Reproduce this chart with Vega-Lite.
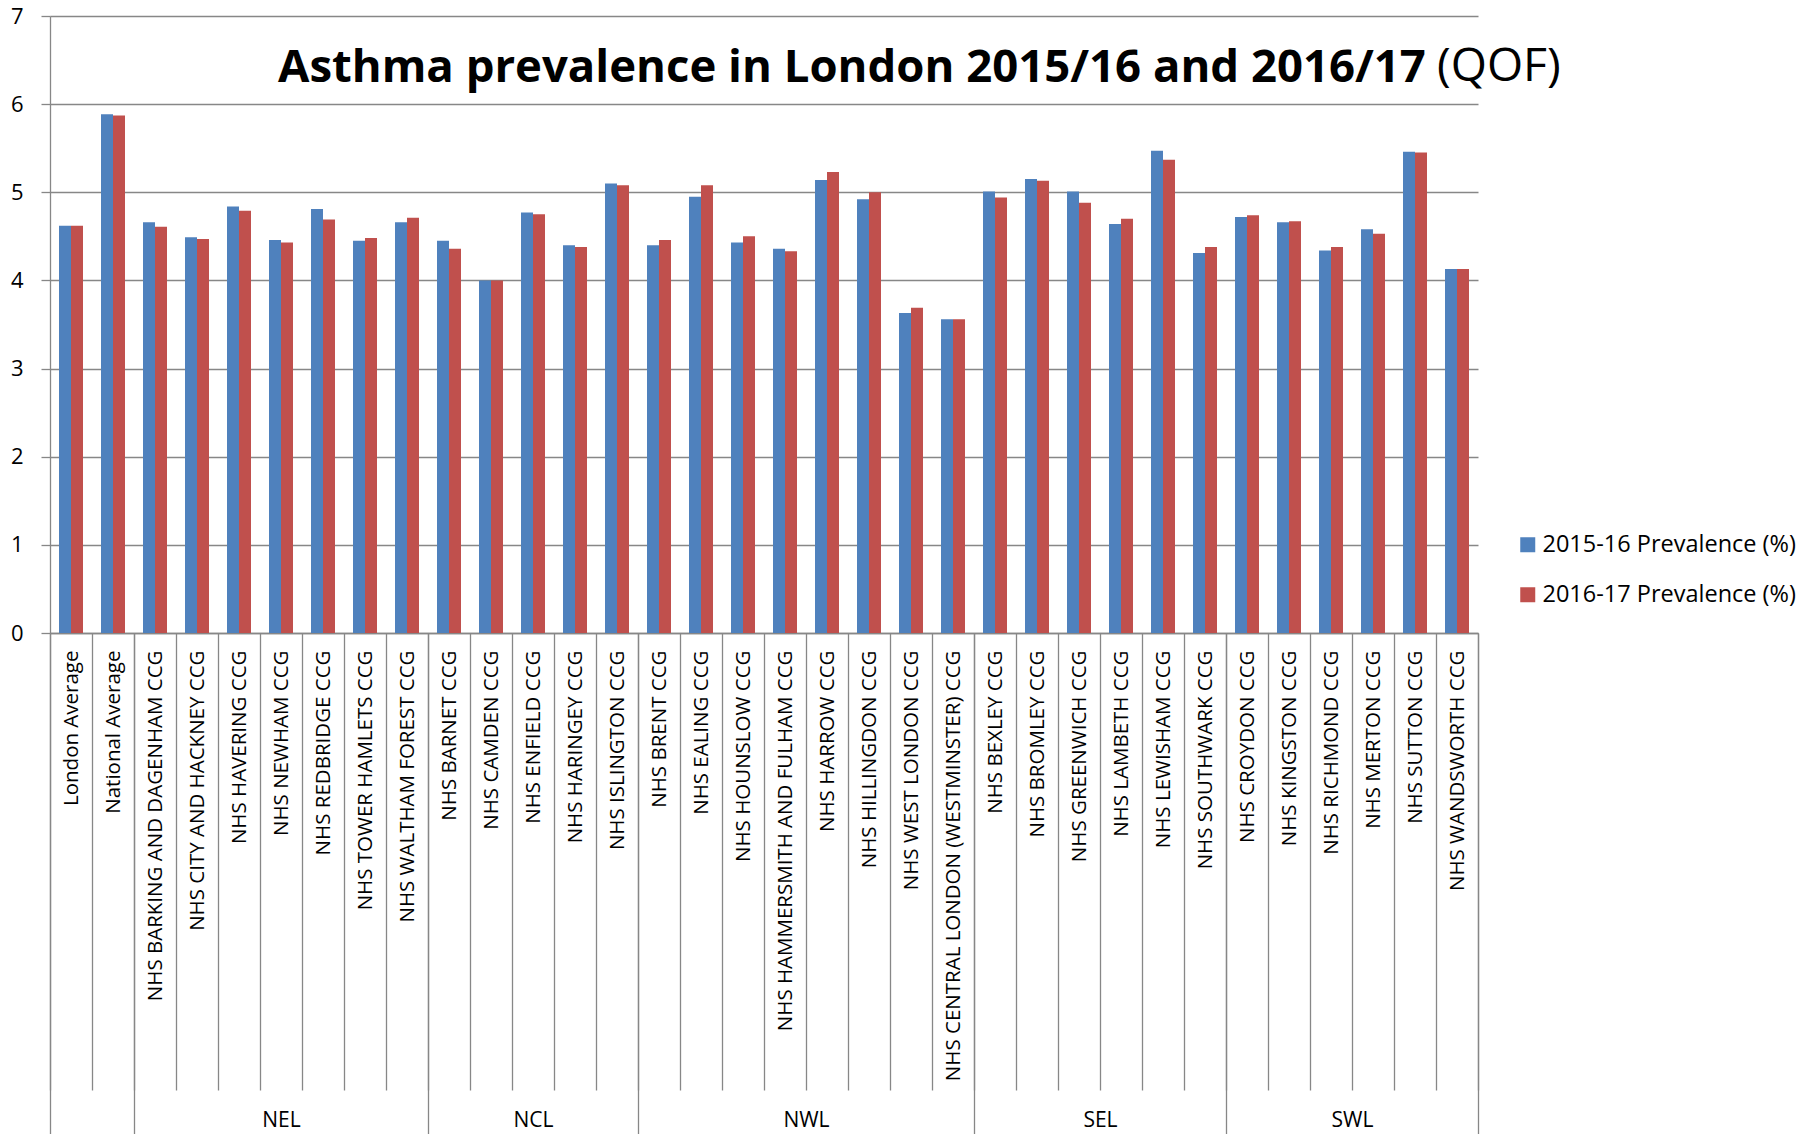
{
  "$schema": "https://vega.github.io/schema/vega-lite/v6.json",
  "width": 1428,
  "height": 617,
  "autosize": {"type": "none"},
  "padding": {"left": 50, "top": 16, "right": 336, "bottom": 501},
  "background": "white",
  "config": {"view": {"stroke": null}, "font": "Open Sans"},
  "title": {
    "text": "Asthma prevalence in London 2015/16 and 2016/17",
    "anchor": "start",
    "frame": "group",
    "dx": 228,
    "offset": -122,
    "baseline": "alphabetic",
    "font": "Open Sans",
    "fontSize": 45.5,
    "fontWeight": "bold",
    "color": "#000000"
  },
  "data": {
    "values": [
      {"area": "London Average", "group": "", "p1516": 4.62, "p1617": 4.62},
      {"area": "National Average", "group": "", "p1516": 5.885, "p1617": 5.87},
      {"area": "NHS BARKING AND DAGENHAM CCG", "group": "NEL", "p1516": 4.66, "p1617": 4.61},
      {"area": "NHS CITY AND HACKNEY CCG", "group": "NEL", "p1516": 4.49, "p1617": 4.47},
      {"area": "NHS HAVERING CCG", "group": "NEL", "p1516": 4.84, "p1617": 4.79},
      {"area": "NHS NEWHAM CCG", "group": "NEL", "p1516": 4.46, "p1617": 4.43},
      {"area": "NHS REDBRIDGE CCG", "group": "NEL", "p1516": 4.81, "p1617": 4.69},
      {"area": "NHS TOWER HAMLETS CCG", "group": "NEL", "p1516": 4.45, "p1617": 4.48},
      {"area": "NHS WALTHAM FOREST CCG", "group": "NEL", "p1516": 4.66, "p1617": 4.71},
      {"area": "NHS BARNET CCG", "group": "NCL", "p1516": 4.45, "p1617": 4.36},
      {"area": "NHS CAMDEN CCG", "group": "NCL", "p1516": 4.0, "p1617": 4.0},
      {"area": "NHS ENFIELD CCG", "group": "NCL", "p1516": 4.77, "p1617": 4.75},
      {"area": "NHS HARINGEY CCG", "group": "NCL", "p1516": 4.4, "p1617": 4.38},
      {"area": "NHS ISLINGTON CCG", "group": "NCL", "p1516": 5.1, "p1617": 5.08},
      {"area": "NHS BRENT CCG", "group": "NWL", "p1516": 4.4, "p1617": 4.46},
      {"area": "NHS EALING CCG", "group": "NWL", "p1516": 4.95, "p1617": 5.08},
      {"area": "NHS HOUNSLOW CCG", "group": "NWL", "p1516": 4.43, "p1617": 4.5},
      {"area": "NHS HAMMERSMITH AND FULHAM CCG", "group": "NWL", "p1516": 4.36, "p1617": 4.33},
      {"area": "NHS HARROW CCG", "group": "NWL", "p1516": 5.14, "p1617": 5.23},
      {"area": "NHS HILLINGDON CCG", "group": "NWL", "p1516": 4.92, "p1617": 5.0},
      {"area": "NHS WEST LONDON CCG", "group": "NWL", "p1516": 3.63, "p1617": 3.69},
      {"area": "NHS CENTRAL LONDON (WESTMINSTER) CCG", "group": "NWL", "p1516": 3.56, "p1617": 3.56},
      {"area": "NHS BEXLEY CCG", "group": "SEL", "p1516": 5.01, "p1617": 4.94},
      {"area": "NHS BROMLEY CCG", "group": "SEL", "p1516": 5.15, "p1617": 5.13},
      {"area": "NHS GREENWICH CCG", "group": "SEL", "p1516": 5.01, "p1617": 4.88},
      {"area": "NHS LAMBETH CCG", "group": "SEL", "p1516": 4.64, "p1617": 4.7},
      {"area": "NHS LEWISHAM CCG", "group": "SEL", "p1516": 5.47, "p1617": 5.37},
      {"area": "NHS SOUTHWARK CCG", "group": "SEL", "p1516": 4.31, "p1617": 4.38},
      {"area": "NHS CROYDON CCG", "group": "SWL", "p1516": 4.72, "p1617": 4.74},
      {"area": "NHS KINGSTON CCG", "group": "SWL", "p1516": 4.66, "p1617": 4.67},
      {"area": "NHS RICHMOND CCG", "group": "SWL", "p1516": 4.34, "p1617": 4.38},
      {"area": "NHS MERTON CCG", "group": "SWL", "p1516": 4.58, "p1617": 4.53},
      {"area": "NHS SUTTON CCG", "group": "SWL", "p1516": 5.46, "p1617": 5.45},
      {"area": "NHS WANDSWORTH CCG", "group": "SWL", "p1516": 4.13, "p1617": 4.13}
    ]
  },
  "layer": [
    {
      "transform": [{"fold": ["p1516", "p1617"], "as": ["series", "prev"]}],
      "mark": {"type": "bar"},
      "encoding": {
        "x": {
          "field": "area",
          "type": "nominal",
          "sort": null,
          "scale": {"paddingInner": 0, "paddingOuter": 0},
          "axis": {
            "orient": "bottom",
            "title": null,
            "grid": false,
            "tickBand": "extent",
            "tickSize": 457,
            "tickColor": "#878787",
            "tickWidth": 1.3,
            "domainColor": "#878787",
            "domainWidth": 1.3,
            "labelAngle": 270,
            "labelPadding": -440,
            "labelFont": "Open Sans",
            "labelFontSize": 20.5,
            "labelColor": "#000000",
            "labelLimit": 700,
            "labelOverlap": false
          }
        },
        "xOffset": {"field": "series", "scale": {"paddingOuter": 0.75, "paddingInner": 0}},
        "y": {
          "field": "prev",
          "type": "quantitative",
          "scale": {"domain": [0, 7], "nice": false},
          "axis": {
            "title": null,
            "values": [0, 1, 2, 3, 4, 5, 6, 7],
            "grid": true,
            "gridColor": "#878787",
            "gridWidth": 1.3,
            "domainColor": "#878787",
            "domainWidth": 1.3,
            "tickColor": "#878787",
            "tickWidth": 1.3,
            "tickSize": 9,
            "labelPadding": 18,
            "labelFont": "Open Sans",
            "labelFontSize": 22,
            "labelColor": "#000000"
          }
        },
        "color": {
          "field": "series",
          "type": "nominal",
          "scale": {"domain": ["p1516", "p1617"], "range": ["#4F81BD", "#C0504D"]},
          "legend": {
            "title": null,
            "orient": "none",
            "legendX": 1466,
            "legendY": 517,
            "padding": 0,
            "symbolType": "square",
            "symbolSize": 225,
            "symbolStrokeWidth": 0,
            "labelFont": "Open Sans",
            "labelFontSize": 23.5,
            "labelColor": "#000000",
            "labelOffset": 3,
            "labelLimit": 400,
            "rowPadding": 25,
            "labelExpr": "datum.label === 'p1516' ? '2015-16 Prevalence (%)' : '2016-17 Prevalence (%)'"
          }
        }
      }
    },
    {
      "transform": [{"filter": "datum.area === 'NHS WANDSWORTH CCG'"}],
      "mark": {"type": "text", "align": "left", "baseline": "alphabetic", "dx": -20, "font": "Open Sans", "fontSize": 46.5, "color": "#000000"},
      "encoding": {
        "x": {
          "field": "area",
          "type": "nominal",
          "sort": null,
          "axis": {
            "orient": "bottom",
            "title": null,
            "grid": false,
            "domain": false,
            "values": ["London Average", "National Average", "NHS WALTHAM FOREST CCG", "NHS ISLINGTON CCG", "NHS CENTRAL LONDON (WESTMINSTER) CCG", "NHS SOUTHWARK CCG", "NHS WANDSWORTH CCG"],
            "tickBand": "extent",
            "tickSize": 501,
            "tickColor": "#878787",
            "tickWidth": 1.3,
            "tickOpacity": {"condition": {"test": "datum.value === 'London Average'", "value": 0}, "value": 1},
            "labelAngle": 0,
            "labelAlign": "center",
            "labelBaseline": "middle",
            "labelPadding": -14,
            "labelFont": "Open Sans",
            "labelFontSize": 21,
            "labelColor": "#000000",
            "labelOverlap": false,
            "labelExpr": "datum.value === 'NHS WALTHAM FOREST CCG' ? 'NEL' : datum.value === 'NHS ISLINGTON CCG' ? 'NCL' : datum.value === 'NHS CENTRAL LONDON (WESTMINSTER) CCG' ? 'NWL' : datum.value === 'NHS SOUTHWARK CCG' ? 'SEL' : datum.value === 'NHS WANDSWORTH CCG' ? 'SWL' : ''",
            "labelOffset": {
              "condition": [
                {"test": "datum.value === 'NHS WALTHAM FOREST CCG'", "value": -126},
                {"test": "datum.value === 'NHS ISLINGTON CCG'", "value": -84},
                {"test": "datum.value === 'NHS CENTRAL LONDON (WESTMINSTER) CCG'", "value": -147},
                {"test": "datum.value === 'NHS SOUTHWARK CCG'", "value": -105},
                {"test": "datum.value === 'NHS WANDSWORTH CCG'", "value": -105}
              ],
              "value": 0
            }
          }
        },
        "y": {
          "datum": 6.26,
          "type": "quantitative",
          "axis": {
            "title": null,
            "values": [0, 1, 2, 3, 4, 5, 6, 7],
            "grid": true,
            "gridColor": "#878787",
            "gridWidth": 1.3,
            "domainColor": "#878787",
            "domainWidth": 1.3,
            "tickColor": "#878787",
            "tickWidth": 1.3,
            "tickSize": 9,
            "labelPadding": 18,
            "labelFont": "Open Sans",
            "labelFontSize": 22,
            "labelColor": "#000000"
          }
        },
        "text": {"value": "(QOF)"}
      }
    }
  ],
  "resolve": {"axis": {"x": "independent"}}
}
